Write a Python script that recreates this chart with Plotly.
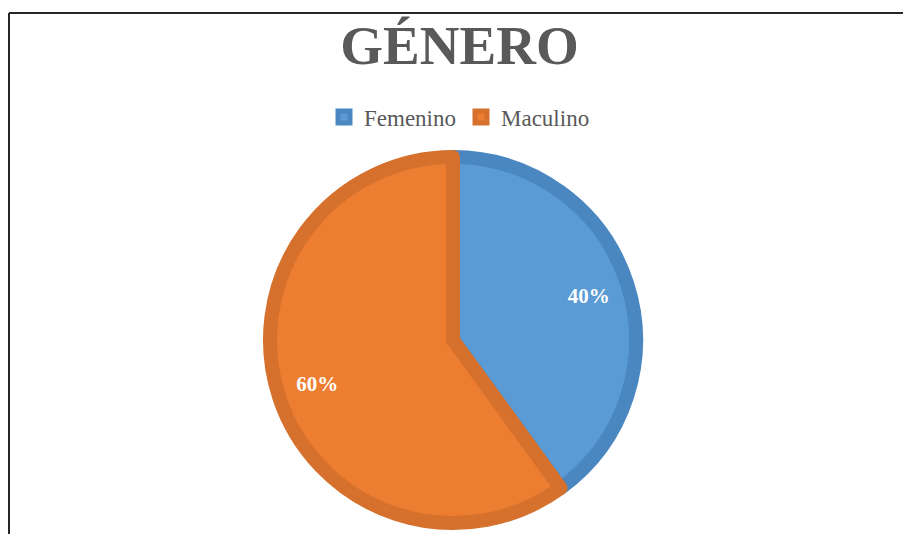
import plotly.graph_objects as go

# -----------------------------------------------------------------------------
# Data
# -----------------------------------------------------------------------------
labels = ['Femenino', 'Maculino']
values = [40, 60]
fill_colors = ['#5B9BD5', '#ED7D31']
edge_colors = ['#4A86C0', '#D5712C']

# page body has an 8px margin, so the figure is drawn 8px in from the corner
W, H = 903, 526
cx, cy, r = 445, 332, 183   # pie centre / radius in figure pixels

pie_domain = dict(x=[(cx - r) / W, (cx + r) / W], y=[(H - cy - r) / H, (H - cy + r) / H])

# -----------------------------------------------------------------------------
# Pie slices with a thick darker edge
# -----------------------------------------------------------------------------
fig = go.Figure(go.Pie(
    labels=labels,
    values=values,
    sort=False,
    direction='clockwise',
    rotation=0,
    marker=dict(colors=fill_colors, line=dict(color=edge_colors, width=14)),
    textinfo='none',
    domain=pie_domain,
    hoverinfo='label+percent',
))

# -----------------------------------------------------------------------------
# Percent labels: a transparent ring on top so the text sits near the rim
# -----------------------------------------------------------------------------
fig.add_trace(go.Pie(
    labels=labels,
    values=values,
    sort=False,
    direction='clockwise',
    rotation=0,
    hole=0.56,
    marker=dict(colors=['rgba(0,0,0,0)'] * len(labels), line=dict(width=0)),
    texttemplate='%{percent:.0%}',
    textposition='inside',
    insidetextorientation='horizontal',
    textfont=dict(family='Liberation Serif', size=21, color='white', weight='bold'),
    domain=pie_domain,
    showlegend=False,
    hoverinfo='skip',
))

# -----------------------------------------------------------------------------
# Layout: title, legend, frame lines
# -----------------------------------------------------------------------------
fig.update_layout(
    width=W, height=H,
    margin=dict(l=0, r=0, t=0, b=0),
    paper_bgcolor='white',
    plot_bgcolor='white',
    title=dict(text='<b>GÉNERO</b>', x=0.5, xanchor='center', y=1 - 37 / H, yanchor='middle',
               font=dict(family='Liberation Serif', size=55, color='#595959')),
    legend=dict(orientation='h', x=0.5, xanchor='center', y=1 - 109 / H, yanchor='middle',
                font=dict(family='Liberation Serif', size=23, color='#595959'),
                itemwidth=30),
    shapes=[
        dict(type='line', xref='paper', yref='paper', x0=1 / W, x1=1, y0=1 - 5 / H, y1=1 - 5 / H,
             line=dict(color='#262626', width=2)),
        dict(type='line', xref='paper', yref='paper', x0=1 / W, x1=1 / W, y0=0, y1=1 - 5 / H,
             line=dict(color='#262626', width=2)),
    ],
)

fig.write_html('out.html')
